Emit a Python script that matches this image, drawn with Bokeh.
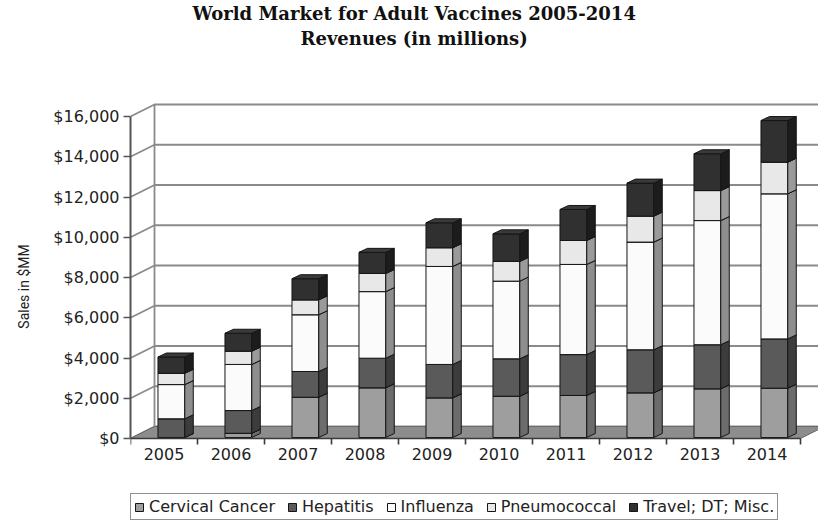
from bokeh.plotting import figure
from bokeh.models import (Range1d, FixedTicker, NumeralTickFormatter, Legend, LegendItem,
                          ColumnDataSource, LinearAxis, Title)
from bokeh.embed import file_html
from bokeh.resources import INLINE

# ---- data (USD millions) ----
years = ["2005", "2006", "2007", "2008", "2009", "2010", "2011", "2012", "2013", "2014"]
cervical_cancer = [0, 210, 2000, 2470, 1970, 2050, 2090, 2220, 2420, 2450]
hepatitis = [930, 1130, 1280, 1470, 1660, 1860, 2030, 2140, 2190, 2450]
influenza = [1700, 2290, 2820, 3310, 4870, 3860, 4480, 5350, 6170, 7210]
pneumococcal = [560, 660, 740, 900, 930, 980, 1190, 1290, 1490, 1570]
travel_dt_misc = [810, 890, 1050, 1050, 1240, 1370, 1540, 1640, 1830, 2070]
series_names = ["Cervical Cancer", "Hepatitis", "Influenza", "Pneumococcal", "Travel; DT; Misc."]
y_ticks = [0, 2000, 4000, 6000, 8000, 10000, 12000, 14000, 16000]

series = [cervical_cancer, hepatitis, influenza, pneumococcal, travel_dt_misc]

# ---- styling ----
FRONT = ["#9e9e9e", "#5a5a5a", "#fbfbfb", "#e8e8e8", "#303030"]
SIDE = ["#6c6c6c", "#3c3c3c", "#8e8e8e", "#9a9a9a", "#1c1c1c"]
TOP = ["#b9b9b9", "#6e6e6e", "#ffffff", "#f3f3f3", "#3a3a3a"]
EDGE = "#151515"
GRID = "#8a8a8a"

# pixel geometry: frame spans x 130..818 and y 50..522, value 0 sits at y=438
FRAME_W, FRAME_H = 688, 472
ZERO_BELOW_TOP = 388
PX_PER_CAT = 67.0
PX_PER_USD = 0.020125
x_end = FRAME_W / PX_PER_CAT
y_end = ZERO_BELOW_TOP / PX_PER_USD
y_start = y_end - FRAME_H / PX_PER_USD

wall_dx = 24 / PX_PER_CAT          # depth of the floor / side wall
wall_dy = 12 / PX_PER_USD
bar_dx = 8.5 / PX_PER_CAT          # depth of each column
bar_dy = 4 / PX_PER_USD
bar_lift = 1 / PX_PER_USD          # columns sit slightly behind the front edge
BAR_LEFT, BAR_W = 0.41, 0.40

n = len(years)
top_val = y_ticks[-1]

p = figure(width=818, height=522,
           x_range=Range1d(0, x_end), y_range=Range1d(y_start, y_end),
           output_backend="svg", toolbar_location=None,
           x_axis_type=None, y_axis_type=None,
           min_border_left=130, min_border_right=0,
           min_border_top=50, min_border_bottom=0)
p.outline_line_color = None
p.background_fill_color = "white"
p.border_fill_color = "white"

# two-line heading (the line nearest the frame is added first)
title_style = dict(align="left", text_font="DejaVu Serif", text_font_size="18px",
                   text_font_style="bold", text_color="#111111")
p.add_layout(Title(text="Revenues (in millions)", offset=170, standoff=4, **title_style), "above")
p.add_layout(Title(text="World Market for Adult Vaccines 2005-2014", offset=62, standoff=0,
                   **title_style), "above")

# ---- walls and gridlines ----
grid_xs = [[0, wall_dx, x_end] for v in y_ticks]
grid_ys = [[v, v + wall_dy, v + wall_dy] for v in y_ticks]
p.multi_line(grid_xs, grid_ys, line_color=GRID, line_width=1.8)
p.segment(x0=[wall_dx], y0=[wall_dy], x1=[wall_dx], y1=[top_val + wall_dy],
          line_color=GRID, line_width=1.8)

# floor
p.patch([0, n, n + wall_dx, wall_dx], [0, 0, wall_dy, wall_dy],
        fill_color="#8d8d8d", line_color="#6a6a6a", line_width=1)

# ---- stacked 3D columns ----
legend_items = []
base = [0.0] * n
for k, vals in enumerate(series):
    lefts = [i + BAR_LEFT for i in range(n)]
    rights = [i + BAR_LEFT + BAR_W for i in range(n)]
    bottoms = [base[i] + bar_lift for i in range(n)]
    tops = [base[i] + vals[i] + bar_lift for i in range(n)]
    src = ColumnDataSource(dict(left=lefts, right=rights, bottom=bottoms, top=tops))
    front = p.quad(left="left", right="right", bottom="bottom", top="top", source=src,
                   fill_color=FRONT[k], line_color=EDGE, line_width=1)
    side_xs = [[r, r + bar_dx, r + bar_dx, r] for r in rights]
    side_ys = [[b, b + bar_dy, t + bar_dy, t] for b, t in zip(bottoms, tops)]
    p.patches(side_xs, side_ys, fill_color=SIDE[k], line_color=EDGE, line_width=1)
    top_xs = [[l, r, r + bar_dx, l + bar_dx] for l, r in zip(lefts, rights)]
    top_ys = [[t, t, t + bar_dy, t + bar_dy] for t in tops]
    p.patches(top_xs, top_ys, fill_color=TOP[k], line_color=EDGE, line_width=1)
    legend_items.append(LegendItem(label=series_names[k], renderers=[front]))
    base = [base[i] + vals[i] for i in range(n)]

# ---- axes ----
yaxis = LinearAxis(ticker=FixedTicker(ticks=y_ticks),
                   formatter=NumeralTickFormatter(format="$0,0"),
                   bounds=(0, top_val),
                   axis_label="Sales in $MM")
yaxis.axis_line_color = "#555555"
yaxis.axis_line_width = 2
yaxis.major_tick_line_color = "#555555"
yaxis.major_tick_line_width = 1.5
yaxis.major_tick_out = 7
yaxis.major_tick_in = 0
yaxis.minor_tick_line_color = None
yaxis.major_label_standoff = 4
yaxis.major_label_text_font = "DejaVu Sans"
yaxis.major_label_text_font_size = "16px"
yaxis.major_label_text_color = "#222222"
yaxis.axis_label_text_font = "Roboto"
yaxis.axis_label_text_font_size = "14px"
yaxis.axis_label_text_font_style = "normal"
yaxis.axis_label_text_color = "#222222"
yaxis.axis_label_standoff = 18
p.add_layout(yaxis, "left")

# category axis along the front edge of the floor; minor ticks mark the slot boundaries
centers = [i + 0.5 for i in range(n)]
boundaries = list(range(n + 1))
xaxis = LinearAxis(ticker=FixedTicker(ticks=centers, minor_ticks=boundaries),
                   major_label_overrides={c: y for c, y in zip(centers, years)},
                   fixed_location=0, bounds=(0, n))
xaxis.axis_line_color = "#3a3a3a"
xaxis.axis_line_width = 1.6
xaxis.major_tick_line_color = None
xaxis.major_tick_out = 0
xaxis.major_tick_in = 0
xaxis.minor_tick_line_color = "#3a3a3a"
xaxis.minor_tick_line_width = 1.6
xaxis.minor_tick_out = 6
xaxis.minor_tick_in = 0
xaxis.major_label_standoff = 3
xaxis.major_label_text_font = "DejaVu Sans"
xaxis.major_label_text_font_size = "16px"
xaxis.major_label_text_color = "#222222"
p.add_layout(xaxis, "below")

# ---- legend along the bottom edge ----
legend = Legend(items=legend_items, orientation="horizontal", location=(0, 2),
                glyph_width=10, glyph_height=10, label_height=16,
                label_text_font="DejaVu Sans", label_text_font_size="16px",
                label_text_color="#222222", label_standoff=5, spacing=12,
                padding=3, margin=0,
                border_line_color="#222222", border_line_width=1,
                background_fill_color="white", background_fill_alpha=1)
p.add_layout(legend)

open("out.html", "w").write(file_html(p, INLINE))
